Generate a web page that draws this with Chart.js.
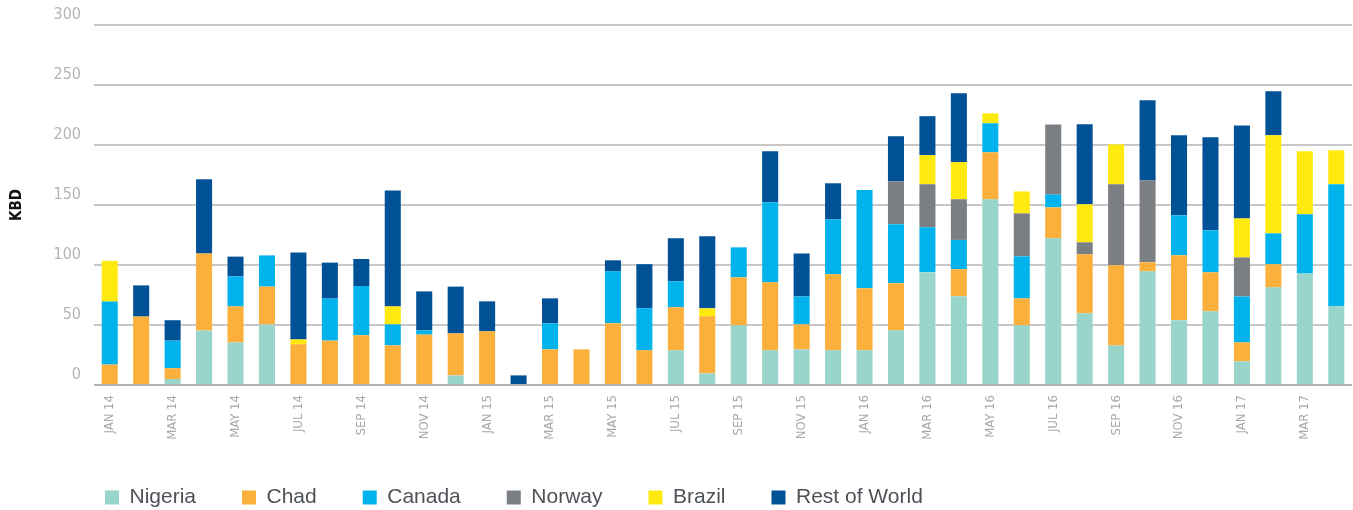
<!DOCTYPE html>
<html lang="en">
<head>
    <meta charset="UTF-8">
    <title>KBD by origin</title>
    <script src="https://cdn.jsdelivr.net/npm/chart.js@4"></script>
    <style>
        body { margin: 0; background: #fff; }
        .chart-container { width: 1353px; height: 510px; }
    </style>
</head>
<body>
    <div class="chart-container">
        <canvas id="grafico"></canvas>
    </div>

    <script>
        const meses = [
            "JAN 14", "FEB 14", "MAR 14", "APR 14", "MAY 14", "JUN 14", "JUL 14", "AUG 14", "SEP 14", "OCT 14", "NOV 14", "DEC 14",
            "JAN 15", "FEB 15", "MAR 15", "APR 15", "MAY 15", "JUN 15", "JUL 15", "AUG 15", "SEP 15", "OCT 15", "NOV 15", "DEC 15",
            "JAN 16", "FEB 16", "MAR 16", "APR 16", "MAY 16", "JUN 16", "JUL 16", "AUG 16", "SEP 16", "OCT 16", "NOV 16", "DEC 16",
            "JAN 17", "FEB 17", "MAR 17", "APR 17"
        ];

        const nigeria = [0, 0, 5, 45.5, 35.5, 50.5, 0, 0, 0, 0, 0, 8, 0, 0, 0, 0, 0, 0, 29, 9.7,
            49.7, 29, 29.7, 29, 29, 45.6, 94, 74, 154.7, 49.7, 122.2, 59.7, 33, 94.7, 53.9, 61.4, 19.7, 81.4, 93, 65.6];
        const chad = [17, 57, 9, 64, 30, 31.5, 34, 37, 41.5, 33, 42, 35, 44.7, 0, 29.7, 29.7, 51.4, 29, 35.8, 47.5,
            40, 56.7, 20.8, 63.3, 51.7, 39.2, 0, 22.5, 39.2, 22.5, 25.8, 49.2, 66.7, 7.5, 54.2, 32.5, 15.8, 19.2, 0, 0];
        const canada = [52.5, 0, 23, 0, 25, 26, 0, 35, 41, 17.5, 3.5, 0, 0, 0, 21.7, 0, 43.3, 35, 21.7, 0,
            25, 66.6, 23.3, 45.8, 81.7, 49.2, 37.5, 24.4, 24.2, 35, 10.8, 0, 0, 0, 33.3, 35, 38.3, 25.8, 49.2, 101.7];
        const norway = [0, 0, 0, 0, 0, 0, 0, 0, 0, 0, 0, 0, 0, 0, 0, 0, 0, 0, 0, 0,
            0, 0, 0, 0, 0, 35.8, 35.8, 33.9, 0, 35.8, 58.3, 10, 67.5, 68.3, 0, 0, 32.5, 0, 0, 0];
        const brazil = [34, 0, 0, 0, 0, 0, 4, 0, 0, 15, 0, 0, 0, 0, 0, 0, 0, 0, 0, 6.7,
            0, 0, 0, 0, 0, 0, 24.2, 30.9, 8.3, 18.3, 0, 31.7, 33.3, 0, 0, 0, 32.5, 81.7, 52.5, 28.3];
        const restoMundo = [0, 26, 17, 62, 16.5, 0, 72.5, 30, 22.5, 96.5, 32.5, 39, 25, 8, 20.8, 0, 9.2, 36.7, 35.8, 60,
            0, 42.5, 35.8, 30, 0, 37.5, 32.5, 57.5, 0, 0, 0, 66.7, 0, 66.7, 66.7, 77.5, 77.5, 36.7, 0, 0];

        const fuenteAngosta = '"DejaVu Sans Condensed", "Liberation Sans Narrow", sans-serif';

        function serie(label, data, color) {
            return { label: label, data: data, backgroundColor: color, borderWidth: 0 };
        }

        // la leyenda empieza alineada con las barras, no con el borde del lienzo
        const moverLeyenda = {
            id: "moverLeyenda",
            afterLayout(chart) {
                chart.legend.left += 59;
                chart.legend.right += 59;
            }
        };

        const ctx = document.getElementById("grafico").getContext("2d");
        new Chart(ctx, {
            type: "bar",
            data: {
                labels: meses,
                datasets: [
                    serie("Nigeria", nigeria, "#99d5ca"),
                    serie("Chad", chad, "#fbb03b"),
                    serie("Canada", canada, "#00b3ec"),
                    serie("Norway", norway, "#7b7f83"),
                    serie("Brazil", brazil, "#ffe90f"),
                    serie("Rest of World", restoMundo, "#005195")
                ]
            },
            plugins: [moverLeyenda],
            options: {
                responsive: true,
                maintainAspectRatio: false,
                animation: false,
                layout: { padding: { left: 0, top: 25, right: 1, bottom: -8 } },
                datasets: { bar: { categoryPercentage: 1, barPercentage: 0.51 } },
                plugins: {
                    tooltip: { enabled: false },
                    legend: {
                        position: "bottom",
                        align: "start",
                        labels: {
                            boxWidth: 14,
                            boxHeight: 14,
                            padding: 46,
                            color: "#4d5258",
                            font: { family: '"Liberation Sans", Arial, sans-serif', size: 21 }
                        }
                    }
                },
                scales: {
                    x: {
                        stacked: true,
                        grid: { display: false, drawTicks: false },
                        border: { display: false },
                        ticks: {
                            autoSkip: false,
                            minRotation: 90,
                            maxRotation: 90,
                            padding: 10,
                            color: "#a7a9ac",
                            font: { family: fuenteAngosta, size: 13 },
                            callback: function (value, index) {
                                return index % 2 === 0 ? meses[index] : "";
                            }
                        },
                        afterFit: function (scale) {
                            scale.height = 56;
                            scale.paddingLeft = 0;
                            scale.paddingRight = 0;
                        }
                    },
                    y: {
                        stacked: true,
                        min: 0,
                        max: 300,
                        border: { display: false },
                        grid: {
                            drawTicks: false,
                            lineWidth: 2,
                            color: function (c) { return c.tick && c.tick.value === 0 ? "#b4b4b4" : "#c8c8c8"; }
                        },
                        ticks: {
                            stepSize: 50,
                            padding: 13,
                            labelOffset: -10,
                            color: "#b4b4b4",
                            font: { family: fuenteAngosta, size: 16 }
                        },
                        title: {
                            display: true,
                            text: "KBD",
                            color: "#111",
                            padding: { top: 8, bottom: 0 },
                            font: { family: fuenteAngosta, size: 15, weight: "bold" }
                        },
                        afterFit: function (scale) {
                            scale.width = 94;
                            scale.paddingTop = 0;
                            scale.paddingBottom = 0;
                        }
                    }
                }
            }
        });
    </script>
</body>
</html>
